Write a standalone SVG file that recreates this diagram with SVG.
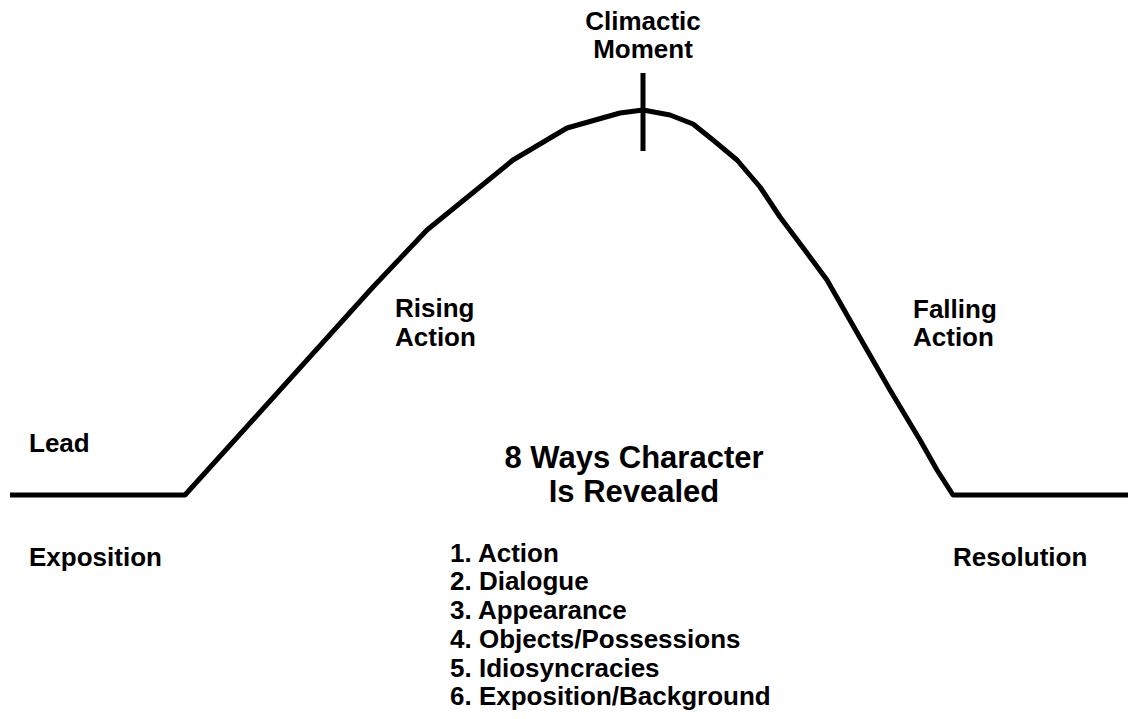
<svg xmlns="http://www.w3.org/2000/svg" width="1140" height="719" viewBox="0 0 1140 719">
<style>
.line{fill:none;stroke:#000;stroke-width:5;stroke-linejoin:round;stroke-linecap:butt}
text{font-family:"Liberation Sans",Arial,Helvetica,sans-serif;font-weight:bold;fill:#000}
.lbl{font-size:26px}
.title{font-size:31px}
.list{font-size:26px}
</style>
<rect width="1140" height="719" fill="#fff"/>
<g id="connectors">
<polyline class="line" points="10,495 185,495 373,287 427,230 513,160 567,128 620,113 643,110 670,115 693,124 713,140 737,160 760,187 780,217 807,253 827,280 863,343 890,390 920,440 937,470 953,495 1128,495"/>
<line class="line" x1="643" y1="73" x2="643" y2="151"/>
</g>
<g id="lead"><text class="lbl" x="29" y="452">Lead</text></g>
<g id="exposition"><text class="lbl" x="29" y="566">Exposition</text></g>
<g id="rising"><text class="lbl" x="395" y="317">Rising</text><text class="lbl" x="395" y="346">Action</text></g>
<g id="climax"><text class="lbl" x="643" y="30" text-anchor="middle">Climactic</text><text class="lbl" x="643" y="58" text-anchor="middle">Moment</text></g>
<g id="falling"><text class="lbl" x="913" y="318">Falling</text><text class="lbl" x="913" y="346">Action</text></g>
<g id="resolution"><text class="lbl" x="953" y="566">Resolution</text></g>
<g id="ways">
<text class="title" x="634" y="468" text-anchor="middle">8 Ways Character</text>
<text class="title" x="634" y="502" text-anchor="middle">Is Revealed</text>
<text class="list" x="450" y="562">1. Action</text>
<text class="list" x="450" y="590">2. Dialogue</text>
<text class="list" x="450" y="619">3. Appearance</text>
<text class="list" x="450" y="648">4. Objects/Possessions</text>
<text class="list" x="450" y="677">5. Idiosyncracies</text>
<text class="list" x="450" y="705">6. Exposition/Background</text>
</g>
</svg>
